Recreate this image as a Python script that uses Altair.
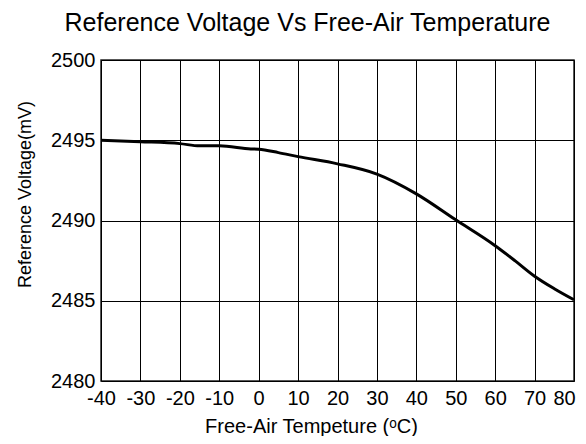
import altair as alt
import pandas as pd

temps = [-40, -30, -20, -15, -10, -2, 0, 5, 10, 20, 30, 40, 50, 60, 65, 70, 75, 80]
volts = [2495.0, 2494.91, 2494.79, 2494.65, 2494.65, 2494.46, 2494.44, 2494.23,
         2493.98, 2493.53, 2492.89, 2491.66, 2490.04, 2488.43, 2487.5, 2486.53,
         2485.75, 2485.06]
x_ticks = [-40, -30, -20, -10, 0, 10, 20, 30, 40, 50, 60, 70, 80]
y_ticks = [2480, 2485, 2490, 2495, 2500]

df = pd.DataFrame({"t": temps, "v": volts})

FONT = "Liberation Sans"

chart = (
    alt.Chart(df)
    .mark_line(color="black", strokeWidth=3, interpolate="monotone")
    .encode(
        x=alt.X(
            "t:Q",
            scale=alt.Scale(domain=[-40, 80], nice=False, zero=False),
            axis=alt.Axis(
                values=x_ticks,
                labelExpr="replace(format(datum.value, 'd'), '−', '-')",
                title="Free-Air Tempeture (ᵒC)",
                labelFontSize=20,
                titleFontSize=20,
                labelPadding=7,
                labelOffset={"condition": {"test": "datum.value == 80", "value": -10}, "value": 0},
                titlePadding=8,
                titleX=210,
                ticks=False,
                domain=False,
                grid=True,
                gridColor="black",
                gridWidth=1,
                gridOpacity=1,
                labelColor="black",
                titleColor="black",
                titleFontWeight="normal",
                labelFont=FONT,
                titleFont=FONT,
                labelFlush=False,
                labelOverlap=False,
                labelBound=False,
            ),
        ),
        y=alt.Y(
            "v:Q",
            scale=alt.Scale(domain=[2480, 2500], nice=False, zero=False),
            axis=alt.Axis(
                values=y_ticks,
                format="d",
                title="Reference Voltage(mV)",
                labelFontSize=20,
                titleFontSize=18,
                labelPadding=6,
                titlePadding=16,
                titleY=134,
                ticks=False,
                domain=False,
                grid=True,
                gridColor="black",
                gridWidth=1,
                gridOpacity=1,
                labelColor="black",
                titleColor="black",
                titleFontWeight="normal",
                labelFont=FONT,
                titleFont=FONT,
                labelFlush=False,
                labelOverlap=False,
            ),
        ),
    )
    .properties(
        width=473,
        height=321,
        title=alt.TitleParams(
            "Reference Voltage Vs Free-Air Temperature",
            fontSize=25,
            font=FONT,
            fontWeight="normal",
            color="black",
            anchor="middle",
            frame="group",
            dx=-30,
            offset=14,
        ),
        autosize=alt.AutoSizeParams(type="none"),
        padding={"left": 93, "top": 52, "right": 4, "bottom": 55},
    )
    .configure_view(stroke="#222", strokeWidth=1.5)
)

chart.save("out.html", embed_options={"renderer": "svg", "actions": False})
